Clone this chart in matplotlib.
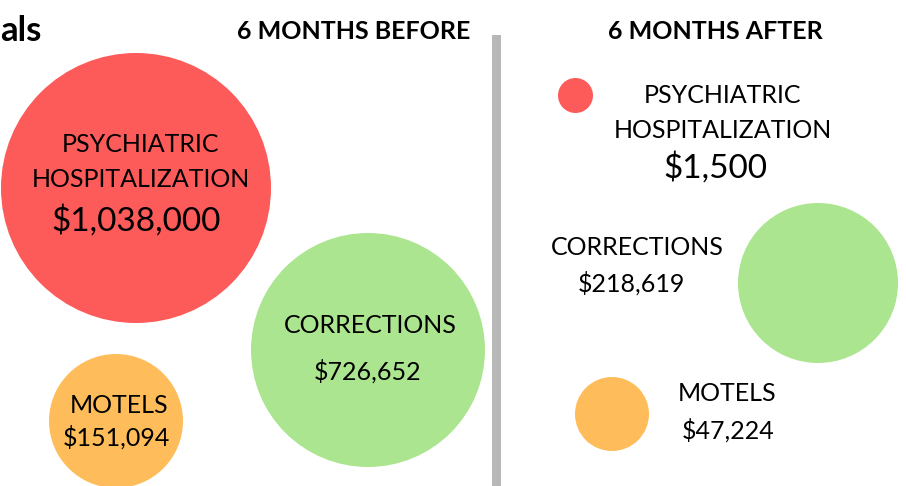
import matplotlib.pyplot as plt
from matplotlib.patches import Circle, Rectangle

# --- data ---
periods = ["6 MONTHS BEFORE", "6 MONTHS AFTER"]
categories = ["PSYCHIATRIC\nHOSPITALIZATION", "CORRECTIONS", "MOTELS"]
before_costs = [1038000, 726652, 151094]
after_costs = [1500, 218619, 47224]
colors = ["#fd5a5a", "#abe590", "#febd5a"]

# --- layout (pixels, top-left origin) ---
# bubble: (cx, cy, r), label: (x, y), value: (x, y)
before_bubbles = [(136, 188, 135), (368, 350, 117), (116, 421, 67)]
before_labels = [(141, 162), (370, 325), (119, 405)]
before_values = [(136, 221), (368, 371), (116, 437)]
after_bubbles = [(575.5, 95.5, 17.5), (818, 283, 80), (612, 414, 37)]
after_labels = [(723, 113), (637, 247), (727, 393)]
after_values = [(715, 168), (631, 283), (728, 430)]

plt.rcParams["font.family"] = ["Lato", "DejaVu Sans"]

fig = plt.figure(figsize=(9.06, 4.86), dpi=100)
ax = fig.add_axes([0, 0, 1, 1])
ax.set_xlim(0, 906)
ax.set_ylim(486, 0)
ax.set_aspect("equal")
ax.axis("off")

ax.text(0, 31, "als", fontsize=25, fontweight="bold", ha="left", va="center")
ax.text(354, 31, periods[0], fontsize=18, fontweight="bold", ha="center", va="center")
ax.text(715, 31, periods[1], fontsize=18, fontweight="bold", ha="center", va="center")

# divider
ax.add_patch(Rectangle((492, 35), 9, 460, color="#b8b8b8", lw=0))


def draw_panel(costs, bubbles, labels, values, spacing):
    for i, cost in enumerate(costs):
        cx, cy, r = bubbles[i]
        ax.add_patch(Circle((cx, cy), r, color=colors[i], lw=0))
        lx, ly = labels[i]
        ax.text(lx, ly, categories[i], fontsize=18, ha="center", va="center",
                linespacing=spacing)
        vx, vy = values[i]
        size = 24 if i == 0 else 18
        ax.text(vx, vy, f"${cost:,}", fontsize=size, ha="center", va="center")


draw_panel(before_costs, before_bubbles, before_labels, before_values, 1.67)
draw_panel(after_costs, after_bubbles, after_labels, after_values, 1.58)

fig.savefig("out.png", dpi=100)
